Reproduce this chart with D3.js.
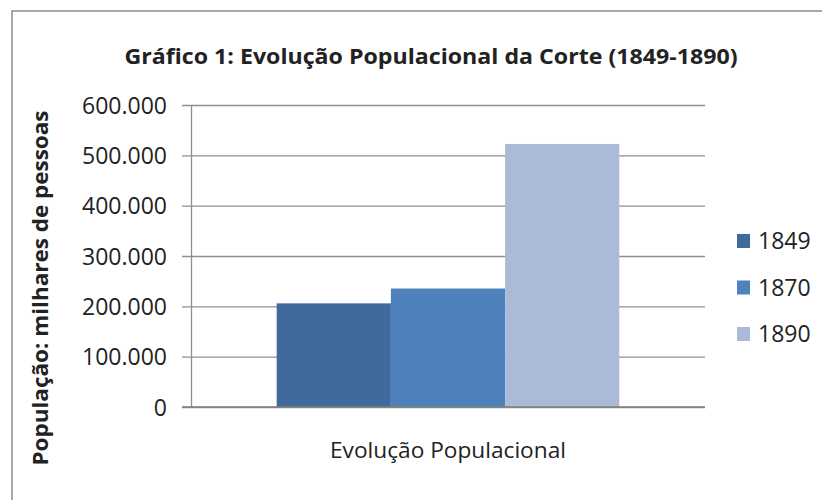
<!DOCTYPE html>
<html>
<head>
<meta charset="utf-8">
<script src="https://cdn.jsdelivr.net/npm/d3@7"></script>
<style>
	body { margin: 0; background: #fff; }
	text { font-family: "Open Sans", sans-serif; fill: #222; }
</style>
</head>
<body>
<div id="chart"></div>
<script>
var categories = ["Evolução Populacional"];
var years = ["1849", "1870", "1890"];
var population = [205906, 235381, 522651];
var yTicks = [0, 100000, 200000, 300000, 400000, 500000, 600000];
var colors = ["#416a9c", "#4f81bd", "#aabad7"];

var data = years.map(function (y, i) {
	return { year: y, value: population[i] };
});

var W = 822, H = 500;
var margin = { top: 105, left: 191, right: 117, bottom: 93 };
var x0Left = margin.left, x0Right = W - margin.right;
var yTop = margin.top, yBottom = H - margin.bottom;

var svg = d3.select("#chart").append("svg")
	.attr("width", W)
	.attr("height", H);

// frame around the chart (runs off the right / bottom edge)
svg.append("rect")
	.attr("x", 12).attr("y", 11)
	.attr("width", W + 20).attr("height", H + 20)
	.attr("fill", "none")
	.attr("stroke", "#8c8c8c")
	.attr("stroke-width", 1.5);

var fmt = d3.formatLocale({ decimal: ",", thousands: ".", grouping: [3], currency: ["", ""] }).format(",");

var y = d3.scaleLinear()
	.domain([0, 600000])
	.range([yBottom, yTop]);

var x0 = d3.scaleBand()
	.domain(categories)
	.range([x0Left, x0Right])
	.paddingOuter(0.25)
	.paddingInner(0);

var x1 = d3.scaleBand()
	.domain(years)
	.range([0, x0.bandwidth()]);

// gridlines (they also stick out left of the axis as tick marks)
var grid = svg.append("g")
	.attr("transform", "translate(" + x0Right + ",0)")
	.call(d3.axisLeft(y).tickValues(yTicks).tickSize(x0Right - x0Left + 9).tickFormat(""));
grid.select(".domain").remove();
grid.selectAll("line").attr("stroke", "#8f8f8f").attr("stroke-width", 1.3);

// bars
svg.append("g")
	.selectAll("g")
	.data(categories)
	.enter().append("g")
	.attr("transform", function (d) {
		return "translate(" + x0(d) + ",0)";
	})
	.selectAll("rect")
	.data(data)
	.enter().append("rect")
	.attr("x", function (d) { return x1(d.year); })
	.attr("y", function (d) { return y(d.value); })
	.attr("width", x1.bandwidth())
	.attr("height", function (d) { return yBottom - y(d.value); })
	.attr("fill", function (d, i) { return colors[i]; });

// y axis labels + axis line
var yAxis = svg.append("g")
	.attr("transform", "translate(" + x0Left + ",0)")
	.call(d3.axisLeft(y).tickValues(yTicks).tickSize(0).tickPadding(24).tickFormat(fmt));
yAxis.select(".domain").attr("stroke", "#8f8f8f").attr("stroke-width", 1.3);
yAxis.selectAll("text")
	.style("font-family", "'Open Sans', sans-serif")
	.style("font-size", "23px")
	.attr("fill", "#222")
	.attr("dy", "0.36em");

// x axis baseline
svg.append("line")
	.attr("x1", x0Left - 9).attr("x2", x0Right)
	.attr("y1", yBottom).attr("y2", yBottom)
	.attr("stroke", "#7f7f7f")
	.attr("stroke-width", 1.6);

// category label
svg.append("text")
	.attr("x", x0(categories[0]) + x0.bandwidth() / 2)
	.attr("y", 458)
	.attr("text-anchor", "middle")
	.attr("textLength", 236)
	.attr("lengthAdjust", "spacingAndGlyphs")
	.style("font-size", "22px")
	.text(categories[0]);

// title
svg.append("text")
	.attr("x", 431)
	.attr("y", 64)
	.attr("text-anchor", "middle")
	.attr("textLength", 613)
	.attr("lengthAdjust", "spacingAndGlyphs")
	.style("font-size", "22px")
	.style("font-weight", "bold")
	.text("Gráfico 1: Evolução Populacional da Corte (1849-1890)");

// y title
svg.append("text")
	.attr("transform", "translate(48,288) rotate(-90)")
	.attr("text-anchor", "middle")
	.attr("textLength", 355)
	.attr("lengthAdjust", "spacingAndGlyphs")
	.style("font-size", "21px")
	.style("font-weight", "bold")
	.text("População: milhares de pessoas");

// legend
var legend = svg.append("g")
	.selectAll("g")
	.data(data)
	.enter().append("g")
	.attr("transform", function (d, i) {
		return "translate(737," + (241 + i * 46.5) + ")";
	});
legend.append("rect")
	.attr("x", 0).attr("y", -7)
	.attr("width", 13).attr("height", 14)
	.attr("fill", function (d, i) { return colors[i]; });
legend.append("text")
	.attr("x", 21)
	.attr("y", 0)
	.attr("dy", "0.36em")
	.style("font-size", "23px")
	.text(function (d) { return d.year; });
</script>
</body>
</html>
